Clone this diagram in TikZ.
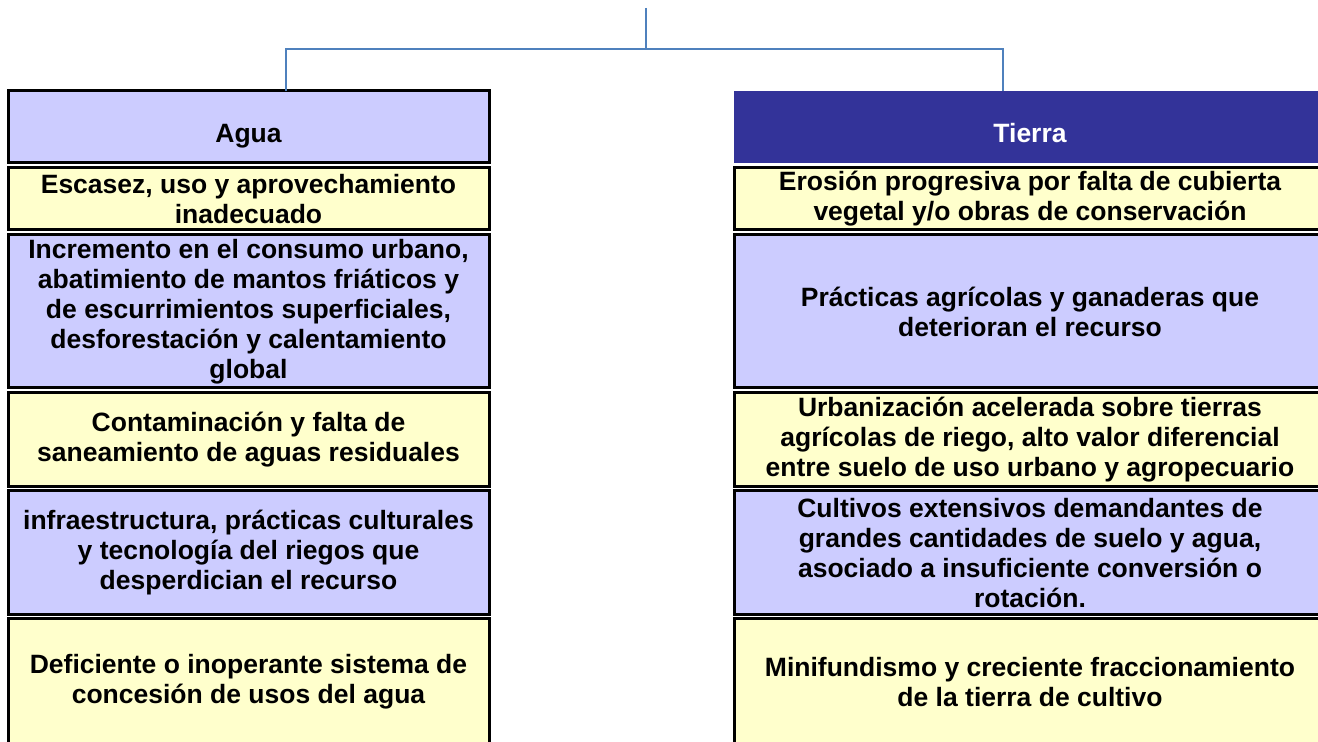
\documentclass[tikz,border=0pt]{standalone}
\usepackage{fontspec}
\setmainfont{Liberation Sans}
\usetikzlibrary{positioning,calc}

\definecolor{lila}{HTML}{CCCCFF}
\definecolor{crema}{HTML}{FFFFCC}
\definecolor{marino}{HTML}{333399}
\definecolor{linea}{HTML}{4F81BD}

\begin{document}
\begin{tikzpicture}[x=0.5pt, y=0.5pt]
	\useasboundingbox (0,0) rectangle (1318,-742);
	\clip (0,0) rectangle (1318,-742);
	\begin{scope}
		\tikzstyle{every node}=[align=center, inner sep=0pt, outer sep=0pt, rectangle, font=\fontsize{13.25}{15}\selectfont\bfseries]
		\tikzstyle{caja}=[draw=black, line width=1.5pt]
		\tikzstyle{cabeza}=[text height=19pt, text depth=3pt]
		\tikzstyle{izq}=[minimum width=240.5pt]
		\tikzstyle{der}=[minimum width=296pt]
		\tikzstyle{conn}=[draw=linea, line width=1pt]

		% columna agua
		\node[caja, izq, cabeza, fill=lila, minimum height=36pt] (agua) at (248.5,-127) {Agua};
		\node[caja, izq, fill=crema, minimum height=31pt] (escasez) at (248.5,-199) {Escasez, uso y aprovechamiento\\inadecuado};
		\node[caja, izq, fill=lila, minimum height=76.5pt] (incremento) at (248.5,-311.5) {Incremento en el consumo urbano,\\abatimiento de mantos friáticos y\\de escurrimientos superficiales,\\desforestación y calentamiento\\global};
		\node[caja, izq, fill=crema, minimum height=47pt] (contam) at (248.5,-440) {Contaminación y falta de\\saneamiento de aguas residuales};
		\node[caja, izq, fill=lila, minimum height=62pt] (infra) at (248.5,-553) {infraestructura, prácticas culturales\\y tecnología del riegos que\\desperdician el recurso};
		\node[caja, izq, fill=crema, minimum height=63pt] (defic) at (248.5,-682) {Deficiente o inoperante sistema de\\concesión de usos del agua};

		% columna tierra
		\node[der, cabeza, fill=marino, text=white, minimum height=36pt] (tierra) at (1030,-127) {Tierra};
		\node[caja, der, fill=crema, minimum height=31pt] (erosion) at (1030,-199) {Erosión progresiva por falta de cubierta\\vegetal y/o obras de conservación};
		\node[caja, der, fill=lila, minimum height=76.5pt] (practicas) at (1030,-311.5) {Prácticas agrícolas y ganaderas que\\deterioran el recurso};
		\node[caja, der, fill=crema, minimum height=47pt] (urban) at (1030,-440) {Urbanización acelerada sobre tierras\\agrícolas de riego, alto valor diferencial\\entre suelo de uso urbano y agropecuario};
		\node[caja, der, fill=lila, minimum height=62pt] (cultivos) at (1030,-553) {Cultivos extensivos demandantes de\\grandes cantidades de suelo y agua,\\asociado a insuficiente conversión o\\rotación.};
		\node[caja, der, fill=crema, minimum height=63pt] (minif) at (1030,-682) {Minifundismo y creciente fraccionamiento\\de la tierra de cultivo};

		% conectores
		\coordinate (top) at (646,-8);
		\draw[conn] (top) -- ++(0,-41);
		\draw[conn] ([xshift=18.75pt]agua.north) -- ++(0,42) -| ([xshift=-13.5pt]tierra.north);

	\end{scope}
\end{tikzpicture}
\end{document}
